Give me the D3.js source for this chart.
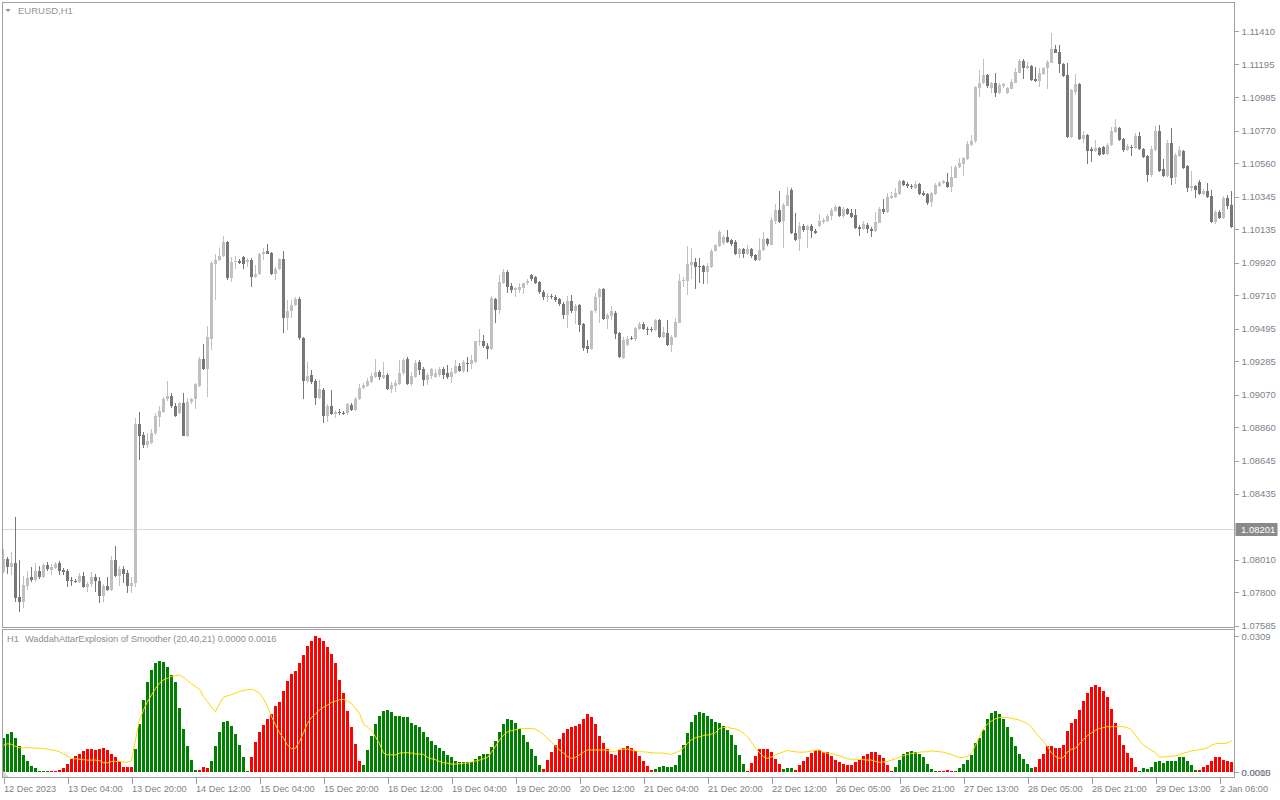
<!DOCTYPE html>
<html><head><meta charset="utf-8">
<script src="https://cdn.jsdelivr.net/npm/d3@7"></script>
<style>html,body{margin:0;padding:0;background:#fff;overflow:hidden}</style>
</head><body>
<svg id="c" width="1280" height="800"></svg>
<script>
const symbolTitle = "EURUSD,H1";
const indicatorTf = "H1";
const indicatorTitle = "WaddahAttarExplosion of Smoother (20,40,21) 0.0000 0.0016";
const timeLabels = ["12 Dec 2023","13 Dec 04:00","13 Dec 20:00","14 Dec 12:00","15 Dec 04:00","15 Dec 20:00","18 Dec 12:00","19 Dec 04:00","19 Dec 20:00","20 Dec 12:00","21 Dec 04:00","21 Dec 20:00","22 Dec 12:00","26 Dec 05:00","26 Dec 21:00","27 Dec 13:00","28 Dec 05:00","28 Dec 21:00","29 Dec 13:00","2 Jan 06:00"];
const timeTickBars = [0,16,32,48,64,80,96,112,128,144,160,176,192,208,224,240,256,272,288,304];
const priceTicks = ["1.11410","1.11195","1.10985","1.10770","1.10560","1.10345","1.10135","1.09920","1.09710","1.09495","1.09285","1.09070","1.08860","1.08645","1.08435","1.08010","1.07800","1.07585"];
const priceMin = 1.07585, priceMax = 1.11410;
const currentPrice = 1.08201;
const indicatorTicks = ["0.0309","0.0000","0.0015"];
const indicatorMax = 0.0309;
const indicatorUnit = 0.0001;

const open = [1.07929,1.08015,1.07963,1.07987,1.07772,1.07740,1.07841,1.07899,1.07881,1.07937,
1.07901,1.07976,1.07942,1.07955,1.07989,1.07944,1.07939,1.07880,1.07875,1.07869,
1.07905,1.07837,1.07852,1.07899,1.07875,1.07779,1.07841,1.07817,1.08008,1.07907,
1.07950,1.07923,1.07841,1.07858,1.08883,1.08812,1.08748,1.08762,1.08827,1.08930,
1.08962,1.09042,1.09063,1.08998,1.08950,1.09020,1.08807,1.09022,1.09042,1.09129,
1.09301,1.09238,1.09431,1.09910,1.09937,1.09963,1.10053,1.09823,1.09922,1.09931,
1.09955,1.09926,1.09937,1.09830,1.09845,1.09974,1.09995,1.09980,1.09845,1.09877,
1.09942,1.09561,1.09606,1.09649,1.09687,1.09434,1.09161,1.09198,1.09159,1.09052,
1.09101,1.08936,1.08998,1.08946,1.08962,1.08955,1.08950,1.09007,1.08973,1.09042,
1.09112,1.09129,1.09155,1.09185,1.09215,1.09177,1.09198,1.09106,1.09127,1.09141,
1.09209,1.09301,1.09138,1.09187,1.09281,1.09236,1.09166,1.09193,1.09187,1.09198,
1.09236,1.09213,1.09187,1.09213,1.09256,1.09224,1.09277,1.09270,1.09279,1.09409,
1.09419,1.09387,1.09366,1.09687,1.09617,1.09792,1.09862,1.09771,1.09741,1.09745,
1.09760,1.09786,1.09841,1.09828,1.09797,1.09734,1.09696,1.09707,1.09702,1.09686,
1.09655,1.09585,1.09675,1.09606,1.09649,1.09527,1.09381,1.09366,1.09606,1.09702,
1.09750,1.09559,1.09580,1.09598,1.09467,1.09309,1.09392,1.09437,1.09430,1.09494,
1.09527,1.09496,1.09494,1.09488,1.09548,1.09445,1.09470,1.09392,1.09441,1.09535,
1.09803,1.09805,1.09905,1.09925,1.09899,1.09899,1.09857,1.09890,1.09992,1.10024,
1.10048,1.10087,1.10066,1.10055,1.09976,1.10006,1.09976,1.10008,1.09969,1.09937,
1.10002,1.10070,1.10036,1.10186,1.10259,1.10190,1.10287,1.10387,1.10113,1.10072,
1.10156,1.10130,1.10156,1.10126,1.10156,1.10182,1.10188,1.10222,1.10252,1.10278,
1.10222,1.10265,1.10241,1.10227,1.10151,1.10137,1.10162,1.10139,1.10124,1.10177,
1.10265,1.10244,1.10338,1.10340,1.10362,1.10445,1.10426,1.10415,1.10400,1.10426,
1.10370,1.10362,1.10308,1.10360,1.10415,1.10430,1.10437,1.10408,1.10466,1.10537,
1.10555,1.10585,1.10677,1.10702,1.11041,1.11073,1.11127,1.11045,1.11077,1.11013,
1.11056,1.11009,1.11039,1.11077,1.11142,1.11218,1.11174,1.11185,1.11101,1.11088,
1.11131,1.11171,1.11206,1.11294,1.11275,1.11199,1.11127,1.10726,1.11019,1.11069,
1.10715,1.10741,1.10649,1.10640,1.10659,1.10666,1.10619,1.10677,1.10762,1.10788,
1.10715,1.10645,1.10666,1.10655,1.10735,1.10651,1.10606,1.10484,1.10645,1.10767,
1.10520,1.10479,1.10688,1.10473,1.10606,1.10638,1.10542,1.10402,1.10413,1.10441,
1.10362,1.10381,1.10351,1.10180,1.10248,1.10209,1.10338,1.10291];

const high = [1.08079,1.08029,1.08062,1.08287,1.08008,1.07905,1.07939,1.07963,1.07991,1.07970,
1.07991,1.07997,1.07982,1.07997,1.08004,1.07955,1.07948,1.07901,1.07888,1.07923,
1.07933,1.07869,1.07933,1.07916,1.07901,1.07854,1.07901,1.08036,1.08098,1.07970,
1.07970,1.07944,1.07899,1.08919,1.08962,1.08831,1.08823,1.08849,1.08955,1.08995,
1.09058,1.09159,1.09080,1.09018,1.09026,1.09082,1.09049,1.09052,1.09144,1.09315,
1.09397,1.09513,1.09931,1.09976,1.10012,1.10091,1.10061,1.09958,1.09963,1.09942,
1.09963,1.09952,1.09950,1.09905,1.09980,1.10012,1.10038,1.09989,1.09892,1.09952,
1.09995,1.09680,1.09680,1.09696,1.09702,1.09442,1.09284,1.09230,1.09171,1.09166,
1.09114,1.09011,1.09101,1.08973,1.08979,1.08966,1.09020,1.09018,1.09058,1.09138,
1.09144,1.09179,1.09209,1.09299,1.09230,1.09284,1.09211,1.09153,1.09166,1.09291,
1.09309,1.09315,1.09217,1.09294,1.09294,1.09249,1.09211,1.09245,1.09234,1.09251,
1.09247,1.09262,1.09241,1.09294,1.09277,1.09294,1.09315,1.09326,1.09417,1.09494,
1.09455,1.09403,1.09707,1.09694,1.09841,1.09877,1.09873,1.09792,1.09766,1.09788,
1.09792,1.09814,1.09845,1.09835,1.09803,1.09745,1.09724,1.09718,1.09713,1.09692,
1.09670,1.09707,1.09713,1.09653,1.09655,1.09533,1.09424,1.09617,1.09724,1.09756,
1.09756,1.09597,1.09642,1.09610,1.09477,1.09445,1.09450,1.09450,1.09509,1.09541,
1.09541,1.09507,1.09509,1.09559,1.09555,1.09509,1.09552,1.09455,1.09566,1.09847,
1.09830,1.10027,1.10012,1.09948,1.09948,1.09905,1.09916,1.10009,1.10038,1.10130,
1.10098,1.10130,1.10072,1.10066,1.10014,1.10014,1.10034,1.10014,1.09976,1.10077,
1.10119,1.10077,1.10212,1.10297,1.10381,1.10304,1.10408,1.10398,1.10237,1.10183,
1.10169,1.10162,1.10169,1.10137,1.10233,1.10207,1.10233,1.10272,1.10291,1.10285,
1.10278,1.10272,1.10263,1.10265,1.10162,1.10190,1.10175,1.10150,1.10244,1.10280,
1.10329,1.10370,1.10373,1.10398,1.10452,1.10452,1.10439,1.10426,1.10445,1.10432,
1.10381,1.10368,1.10374,1.10430,1.10445,1.10452,1.10495,1.10542,1.10548,1.10591,
1.10598,1.10702,1.10741,1.11058,1.11159,1.11230,1.11133,1.11084,1.11142,1.11077,
1.11077,1.11052,1.11099,1.11171,1.11228,1.11228,1.11208,1.11191,1.11180,1.11171,
1.11180,1.11223,1.11399,1.11320,1.11320,1.11206,1.11206,1.11036,1.11133,1.11075,
1.10767,1.10748,1.10666,1.10709,1.10666,1.10672,1.10688,1.10794,1.10844,1.10794,
1.10722,1.10683,1.10677,1.10752,1.10760,1.10657,1.10612,1.10670,1.10799,1.10803,
1.10585,1.10709,1.10784,1.10625,1.10670,1.10645,1.10548,1.10510,1.10420,1.10452,
1.10394,1.10430,1.10387,1.10259,1.10259,1.10349,1.10355,1.10381];

const low = [1.07925,1.07918,1.07912,1.07738,1.07672,1.07698,1.07815,1.07867,1.07869,1.07886,
1.07892,1.07939,1.07912,1.07947,1.07912,1.07912,1.07837,1.07841,1.07858,1.07860,
1.07828,1.07804,1.07837,1.07804,1.07734,1.07740,1.07809,1.07809,1.07899,1.07841,
1.07858,1.07798,1.07798,1.07837,1.08651,1.08728,1.08728,1.08754,1.08812,1.08865,
1.08953,1.09031,1.08986,1.08930,1.08946,1.08805,1.08801,1.09011,1.08979,1.09121,
1.09230,1.09058,1.09358,1.09680,1.09931,1.09956,1.09809,1.09798,1.09877,1.09912,
1.09877,1.09894,1.09766,1.09820,1.09841,1.09937,1.09973,1.09841,1.09809,1.09873,
1.09467,1.09488,1.09563,1.09642,1.09424,1.09042,1.09147,1.09141,1.09006,1.09043,
1.08887,1.08898,1.08941,1.08919,1.08941,1.08941,1.08941,1.08966,1.08966,1.09037,
1.09108,1.09122,1.09148,1.09179,1.09166,1.09172,1.09101,1.09080,1.09090,1.09133,
1.09198,1.09133,1.09127,1.09179,1.09198,1.09129,1.09133,1.09172,1.09179,1.09187,
1.09172,1.09174,1.09148,1.09202,1.09217,1.09209,1.09219,1.09234,1.09276,1.09387,
1.09372,1.09301,1.09358,1.09535,1.09591,1.09784,1.09724,1.09724,1.09698,1.09724,
1.09720,1.09777,1.09803,1.09782,1.09720,1.09680,1.09670,1.09687,1.09670,1.09642,
1.09556,1.09502,1.09597,1.09527,1.09471,1.09354,1.09341,1.09358,1.09595,1.09535,
1.09552,1.09494,1.09552,1.09428,1.09307,1.09299,1.09385,1.09424,1.09413,1.09488,
1.09488,1.09455,1.09471,1.09481,1.09434,1.09437,1.09385,1.09348,1.09437,1.09531,
1.09766,1.09713,1.09817,1.09751,1.09788,1.09782,1.09782,1.09886,1.09989,1.10021,
1.10034,1.10047,1.10024,1.09969,1.09952,1.09952,1.09969,1.09952,1.09931,1.09931,
1.09995,1.10027,1.10034,1.10167,1.10175,1.10016,1.10285,1.10104,1.10059,1.09998,
1.10117,1.10016,1.10077,1.10102,1.10150,1.10169,1.10182,1.10194,1.10246,1.10216,
1.10209,1.10227,1.10209,1.10137,1.10094,1.10130,1.10109,1.10087,1.10117,1.10173,
1.10231,1.10239,1.10329,1.10334,1.10355,1.10413,1.10402,1.10392,1.10394,1.10355,
1.10349,1.10291,1.10280,1.10355,1.10406,1.10424,1.10402,1.10376,1.10463,1.10531,
1.10479,1.10580,1.10670,1.10688,1.10987,1.11069,1.11043,1.11011,1.10987,1.11005,
1.11045,1.11005,1.11035,1.11073,1.11138,1.11099,1.11167,1.11088,1.11082,1.11048,
1.11127,1.11036,1.11202,1.11266,1.11142,1.11112,1.10720,1.10720,1.10998,1.10709,
1.10688,1.10553,1.10569,1.10632,1.10606,1.10610,1.10612,1.10670,1.10754,1.10702,
1.10634,1.10638,1.10608,1.10651,1.10645,1.10593,1.10441,1.10473,1.10638,1.10503,
1.10473,1.10471,1.10420,1.10426,1.10600,1.10524,1.10376,1.10381,1.10338,1.10355,
1.10355,1.10336,1.10177,1.10167,1.10204,1.10204,1.10265,1.10145];

const close = [1.08015,1.07965,1.07991,1.07766,1.07740,1.07847,1.07894,1.07881,1.07937,1.07899,
1.07976,1.07950,1.07961,1.07982,1.07939,1.07931,1.07875,1.07873,1.07865,1.07905,
1.07837,1.07854,1.07899,1.07875,1.07779,1.07841,1.07817,1.08008,1.07907,1.07950,
1.07918,1.07841,1.07858,1.08883,1.08807,1.08748,1.08775,1.08825,1.08934,1.08966,
1.09042,1.09063,1.08995,1.08936,1.09020,1.08807,1.09026,1.09043,1.09138,1.09301,
1.09236,1.09442,1.09916,1.09937,1.09963,1.10053,1.09823,1.09922,1.09929,1.09916,
1.09913,1.09937,1.09830,1.09847,1.09976,1.09989,1.09978,1.09845,1.09877,1.09942,
1.09561,1.09606,1.09649,1.09687,1.09434,1.09161,1.09193,1.09155,1.09052,1.09106,
1.08936,1.08998,1.08946,1.08960,1.08951,1.08950,1.09011,1.08973,1.09042,1.09114,
1.09133,1.09161,1.09191,1.09215,1.09183,1.09198,1.09106,1.09133,1.09144,1.09213,
1.09294,1.09138,1.09191,1.09277,1.09230,1.09166,1.09198,1.09236,1.09213,1.09236,
1.09198,1.09187,1.09219,1.09256,1.09224,1.09284,1.09270,1.09291,1.09413,1.09419,
1.09381,1.09366,1.09692,1.09617,1.09798,1.09862,1.09766,1.09745,1.09756,1.09766,
1.09788,1.09803,1.09816,1.09792,1.09730,1.09696,1.09707,1.09696,1.09680,1.09651,
1.09585,1.09675,1.09606,1.09642,1.09520,1.09374,1.09366,1.09610,1.09702,1.09750,
1.09559,1.09585,1.09606,1.09462,1.09315,1.09424,1.09428,1.09430,1.09498,1.09527,
1.09494,1.09488,1.09488,1.09552,1.09445,1.09473,1.09392,1.09445,1.09541,1.09803,
1.09809,1.09912,1.09925,1.09894,1.09894,1.09857,1.09899,1.09998,1.10034,1.10115,
1.10087,1.10051,1.10040,1.09976,1.10006,1.09976,1.10008,1.09965,1.09937,1.10002,
1.10070,1.10040,1.10194,1.10259,1.10183,1.10291,1.10355,1.10113,1.10066,1.10158,
1.10130,1.10156,1.10124,1.10113,1.10188,1.10194,1.10222,1.10259,1.10278,1.10222,
1.10265,1.10235,1.10216,1.10145,1.10137,1.10169,1.10137,1.10124,1.10182,1.10265,
1.10244,1.10342,1.10351,1.10366,1.10445,1.10420,1.10413,1.10408,1.10426,1.10362,
1.10355,1.10306,1.10366,1.10420,1.10434,1.10445,1.10408,1.10473,1.10537,1.10559,
1.10591,1.10683,1.10702,1.11052,1.11077,1.11127,1.11056,1.11077,1.11013,1.11062,
1.11069,1.11045,1.11080,1.11148,1.11218,1.11174,1.11185,1.11095,1.11088,1.11138,
1.11172,1.11212,1.11294,1.11270,1.11199,1.11122,1.10730,1.11030,1.11069,1.10715,
1.10741,1.10640,1.10640,1.10659,1.10612,1.10619,1.10677,1.10767,1.10794,1.10709,
1.10645,1.10672,1.10659,1.10735,1.10651,1.10601,1.10484,1.10651,1.10767,1.10511,
1.10479,1.10688,1.10466,1.10612,1.10645,1.10531,1.10402,1.10413,1.10387,1.10362,
1.10381,1.10344,1.10183,1.10248,1.10209,1.10338,1.10287,1.10151];

// Waddah Attar explosion histogram, in units of 0.0001
const explosion = [78,86,91,78,58,39,24,14,9,2,
2,1,2,2,5,8,18,29,36,40,
48,52,52,50,52,55,50,42,33,24,
12,12,12,52,109,164,205,232,248,252,
251,239,220,205,146,98,59,27,5,5,
12,10,24,59,92,114,117,105,86,61,
33,2,35,69,92,107,120,132,150,160,
183,207,223,230,247,266,286,298,308,304,
298,285,267,247,209,179,139,102,64,25,
16,50,82,108,127,139,141,137,128,127,
126,126,111,107,102,92,79,70,61,54,
48,39,33,26,22,22,22,22,30,36,
40,42,56,70,90,109,120,118,111,97,
84,69,52,36,16,7,27,45,61,74,
88,98,103,105,108,120,132,126,109,82,
67,52,41,39,50,54,58,55,48,36,
25,14,5,7,12,14,12,12,16,39,
61,88,114,130,137,135,128,120,113,111,
105,95,83,61,39,18,2,20,37,52,
52,52,46,30,18,7,8,8,5,15,
25,35,44,49,50,45,45,37,27,22,
18,16,16,22,27,36,41,45,45,39,
31,16,2,12,27,40,46,48,45,41,
33,18,7,1,3,3,5,2,3,10,
18,27,39,65,77,95,120,133,139,131,
120,102,80,58,42,30,18,8,12,29,
42,59,59,55,55,61,93,111,120,142,
161,180,194,198,194,185,171,143,111,84,
61,44,31,12,2,10,7,12,22,25,
21,25,24,25,33,33,25,16,5,5,
12,15,25,35,33,27,25,22];

// explosion line (yellow), in units of 0.0001
const explosionLine = [61,64,63,58,55,55,55,55,54,54,
53,52,50,49,46,41,36,31,30,29,
28,27,27,27,26,21,21,24,24,24,
23,22,26,73,118,141,160,175,190,202,
209,213,217,219,220,215,208,200,194,188,
171,160,147,137,155,170,173,176,179,183,
185,187,188,185,179,167,149,126,107,89,
77,61,53,54,69,89,111,124,132,141,
147,152,158,161,164,165,161,155,145,133,
109,102,94,80,64,43,39,39,39,43,
44,44,43,41,41,40,33,30,28,24,
21,20,18,18,19,20,20,23,25,27,
30,33,45,58,73,84,91,94,96,99,
99,99,99,97,92,85,77,68,59,50,
43,35,31,33,39,45,50,50,50,50,
50,49,46,46,52,52,52,50,48,46,
46,45,44,43,43,43,41,40,44,48,
54,65,73,78,80,83,84,86,89,99,
101,102,99,98,94,88,80,67,54,44,
35,31,34,39,43,46,49,47,46,45,
45,46,48,49,50,44,43,42,39,36,
33,30,29,29,29,28,27,27,24,22,
23,24,27,30,34,37,40,42,43,45,
46,46,48,47,46,45,42,40,36,33,
33,36,43,61,80,99,109,116,121,124,
124,124,122,120,118,114,110,102,89,79,
69,58,43,35,31,33,46,52,54,64,
74,83,89,95,99,101,103,103,103,103,
103,101,96,84,71,61,55,49,44,34,
34,35,36,37,39,43,45,48,49,51,
52,55,61,64,65,65,66,71];

// histogram colour runs: G = trend up (green), R = trend down (red)
const trendRuns = [["G",12],["R",21],["G",16],["R",3],["G",10],["R",28],["G",45],["R",28],["G",23],["R",9],["G",3],["R",25],["G",11],["R",4],["G",20],["R",26],["G",15],["R",9]];

// ---------- drawing ----------
const FONT = "'Liberation Sans', Arial, sans-serif";
const TXT = "#7d828c";
const FRAME = "#a0a0a4";
const svg = d3.select("#c");
const N = close.length;

const trend = [];
trendRuns.forEach(([c, n]) => { for (let k = 0; k < n; k++) trend.push(c); });

const x = d3.scaleLinear().domain([0, N - 1]).range([3.5, 3.5 + 4 * (N - 1)]);
const y = d3.scaleLinear().domain([priceMin, priceMax]).range([625.7, 31]);
const yi = d3.scaleLinear().domain([0, indicatorMax]).range([772, 636]);

const plotL = 2.5, plotR = 1234.5;
const mainTop = 2.5, mainBot = 627.5, indTop = 629.5, indBot = 777.5;

// current price line
svg.append("line").attr("x1", plotL).attr("x2", plotR)
  .attr("y1", Math.round(y(currentPrice)) - 0.5).attr("y2", Math.round(y(currentPrice)) - 0.5)
  .attr("stroke", "#d8d8d8").attr("stroke-width", 1);

// candles
const idx = d3.range(N);
const cg = svg.append("g").attr("shape-rendering", "crispEdges");
const colOf = i => close[i] >= open[i] ? "#c0c0c0" : "#777777";
cg.selectAll("rect.w").data(idx).join("rect").attr("class", "w")
  .attr("x", i => x(i) - 0.5).attr("width", 1)
  .attr("y", i => y(high[i]))
  .attr("height", i => Math.max(1, y(low[i]) - y(high[i])))
  .attr("fill", colOf);
cg.selectAll("rect.b").data(idx).join("rect").attr("class", "b")
  .attr("x", i => x(i) - 1.5).attr("width", 3)
  .attr("y", i => y(Math.max(open[i], close[i])))
  .attr("height", i => Math.max(1, Math.abs(y(open[i]) - y(close[i]))))
  .attr("fill", colOf);

// histogram
const hg = svg.append("g").attr("shape-rendering", "crispEdges");
hg.selectAll("rect").data(idx).join("rect")
  .attr("x", i => x(i) - 1.5).attr("width", 3)
  .attr("y", i => Math.min(yi(explosion[i] * indicatorUnit), yi(0) - 1))
  .attr("height", i => Math.max(1, yi(0) - yi(explosion[i] * indicatorUnit)))
  .attr("fill", i => trend[i] === "G" ? "#008000" : "#ff0000");

// explosion line
svg.append("path").datum(idx)
  .attr("d", d3.line().x(i => x(i)).y(i => yi(explosionLine[i] * indicatorUnit)))
  .attr("fill", "none").attr("stroke", "#ffd700").attr("stroke-width", 1);

// frames
const fg = svg.append("g").attr("fill", "none").attr("stroke", FRAME).attr("stroke-width", 1).attr("shape-rendering", "crispEdges");
fg.append("rect").attr("x", plotL).attr("y", mainTop).attr("width", plotR - plotL).attr("height", mainBot - mainTop);
fg.append("rect").attr("x", plotL).attr("y", indTop).attr("width", plotR - plotL).attr("height", indBot - indTop);

// price axis
const pa = svg.append("g").attr("transform", `translate(${plotR},0)`)
  .call(d3.axisRight(y).tickValues(priceTicks.map(Number)).tickFormat(d3.format(".5f")).tickSize(4).tickSizeOuter(0).tickPadding(3));
pa.select(".domain").remove();
pa.selectAll("line").attr("stroke", FRAME).attr("shape-rendering", "crispEdges");
pa.selectAll("text").attr("fill", TXT).attr("font-family", FONT).attr("font-size", 9.5);

// current price box
const cpY = Math.round(y(currentPrice)) - 0.5;
svg.append("rect").attr("x", plotR + 1).attr("y", cpY - 6.5).attr("width", 42).attr("height", 13).attr("fill", "#8a8a8a");
svg.append("text").attr("x", plotR + 6.5).attr("y", cpY).attr("dy", "0.35em")
  .attr("fill", "#ffffff").attr("font-family", FONT).attr("font-size", 9.5).text(currentPrice.toFixed(5));

// indicator axis
const iaVals = indicatorTicks.map(Number);
const ia = svg.append("g").attr("transform", `translate(${plotR},0)`)
  .call(d3.axisRight(yi).tickValues(iaVals).tickFormat((d, k) => indicatorTicks[k]).tickSize(4).tickSizeOuter(0).tickPadding(3));
ia.select(".domain").remove();
ia.selectAll("line").attr("stroke", FRAME).attr("shape-rendering", "crispEdges");
ia.selectAll(".tick").attr("transform", d => `translate(0,${d === 0.0015 ? yi(0) + 0.5 : yi(d) + 0.5})`);
ia.selectAll("text").attr("fill", TXT).attr("font-family", FONT).attr("font-size", 9.5);

// time axis
const ta = svg.append("g").attr("transform", `translate(0,${indBot})`)
  .call(d3.axisBottom(x).tickValues(timeTickBars).tickFormat((d, k) => timeLabels[k]).tickSize(6).tickSizeOuter(0).tickPadding(2));
ta.select(".domain").remove();
ta.selectAll("line").attr("stroke", FRAME).attr("shape-rendering", "crispEdges");
ta.selectAll("text").attr("fill", TXT).attr("font-family", FONT).attr("font-size", 9.2)
  .attr("text-anchor", "start").attr("x", 0);

// right axis vertical line
svg.append("line").attr("x1", plotR).attr("x2", plotR).attr("y1", mainTop).attr("y2", indBot)
  .attr("stroke", FRAME).attr("shape-rendering", "crispEdges");

// titles
svg.append("path").attr("d", "M5.5,9 L10.5,9 L8,12 Z").attr("fill", "#8c8c8c");
svg.append("text").attr("x", 18).attr("y", 14).attr("fill", "#959595")
  .attr("font-family", FONT).attr("font-size", 9.5).text(symbolTitle);
svg.append("text").attr("x", 7).attr("y", 641.5).attr("fill", "#8c8c8c")
  .attr("font-family", FONT).attr("font-size", 9.2).text(indicatorTf);
svg.append("text").attr("x", 25).attr("y", 641.5).attr("fill", "#8c8c8c")
  .attr("font-family", FONT).attr("font-size", 9.2).text(indicatorTitle);

// small corner marker bottom-left of indicator pane
svg.append("path").attr("d", "M3,771 L3,777 L9,777 Z").attr("fill", "#d4d4d4");
</script>
</body></html>
